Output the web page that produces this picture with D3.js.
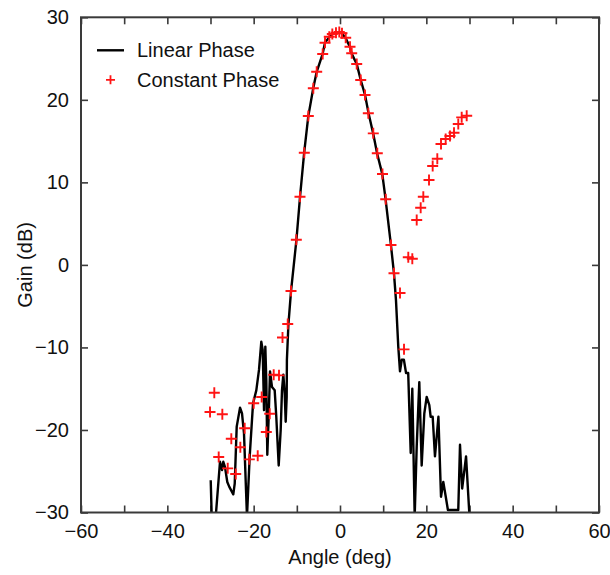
<!DOCTYPE html>
<html>
<head>
<meta charset="utf-8">
<script src="https://cdn.jsdelivr.net/npm/d3@7"></script>
<style>
    html, body { margin: 0; padding: 0; background: #fff; }
    svg { display: block; font-family: "Liberation Sans", Arial, sans-serif; }
</style>
</head>
<body>
<div id="chart"></div>
<script>
const xTicks = [-60, -40, -20, 0, 20, 40, 60];
const yTicks = [-30, -20, -10, 0, 10, 20, 30];
const seriesNames = ['Linear Phase', 'Constant Phase'];

// black trace (values below -30 are clipped by the frame)
const linearAngle = [
    -29.95, -29.72, -28.79, -27.80, -27.33, -27.03, -26.64, -26.11, -25.64, -24.72,
    -24.39, -23.93, -23.16, -22.70, -22.24, -21.77, -21.55, -20.92, -20.15, -19.39,
    -18.76, -18.23, -17.91, -17.60, -17.30, -17.07, -16.84, -16.52, -16.21, -15.75,
    -15.13, -14.76, -14.20, -13.74, -13.44, -13.13, -12.81, -12.58, -12.35, -12.30,
    -11.95, -11.35, -10.10, -9.25, -8.30, -7.35, -6.20, -5.40, -4.00, -3.50,
    -2.50, -1.80, -0.90, -0.15, 0.45, 1.30, 2.30, 2.70, 3.90, 4.80,
    5.80, 6.60, 7.70, 8.60, 9.80, 10.55, 11.80, 12.50, 12.97, 13.50,
    13.90, 14.30, 14.80, 15.30, 15.80, 16.38, 16.75, 17.30, 17.77, 18.37,
    18.92, 19.53, 20.08, 20.69, 21.00, 21.47, 22.00, 22.80, 23.40, 23.93,
    24.50, 25.00, 27.40, 27.80, 28.30, 29.20, 30.00
];
const linearGain = [
    -26.1, -30.5, -30.5, -23.85, -24.85, -23.85, -24.5, -26.3, -26.9, -27.8,
    -26.5, -19.6, -17.3, -18.0, -20.4, -27.3, -30.5, -23.2, -16.8, -15.2,
    -12.7, -9.3, -10.3, -17.6, -9.9, -14.0, -23.0, -18.4, -12.9, -14.8,
    -15.2, -18.4, -24.3, -20.0, -15.2, -13.3, -15.6, -19.0, -16.0, -11.5,
    -7.2, -3.2, 3.0, 8.3, 13.6, 18.0, 21.4, 23.4, 25.6, 26.9,
    27.6, 27.95, 28.1, 28.2, 28.05, 27.5, 26.4, 25.6, 24.3, 22.4,
    20.6, 18.4, 15.9, 13.5, 11.0, 8.0, 2.4, -1.0, -4.3, -9.9,
    -12.9, -11.5, -11.5, -13.1, -13.1, -22.8, -15.0, -30.5, -22.0, -14.2,
    -24.3, -18.0, -16.0, -17.0, -18.4, -18.4, -23.2, -18.4, -28.1, -26.3,
    -28.1, -29.7, -29.7, -21.8, -27.1, -23.2, -30.5
];

// red crosses
const constAngle = [
    -29.12, -30.11, -27.26, -25.18, -28.10, -26.01, -24.16, -23.09, -22.08, -21.01,
    -19.06, -19.99, -18.14, -16.28, -17.07, -15.36, -14.13, -13.32, -12.11, -11.35,
    -10.12, -9.27, -8.27, -7.34, -6.18, -5.40, -4.01, -3.47, -2.48, -1.78,
    -0.93, -0.16, 0.46, 1.32, 2.32, 2.71, 3.87, 4.80, 5.79, 6.56,
    7.71, 8.64, 9.84, 10.59, 11.81, 12.51, 13.90, 14.83, 15.82, 16.75,
    17.77, 18.69, 19.30, 20.62, 21.47, 22.54, 23.40, 24.48, 25.48, 26.41,
    27.40, 28.19, 29.35
];
const constGain = [
    -15.49, -17.83, -18.10, -21.06, -23.28, -24.65, -25.34, -22.10, -19.80, -23.56,
    -23.12, -16.77, -16.01, -18.03, -20.25, -13.31, -13.38, -8.80, -7.16, -3.16,
    3.05, 8.26, 13.59, 18.04, 21.40, 23.41, 25.55, 26.92, 27.65, 27.98,
    28.13, 28.22, 28.06, 27.53, 26.44, 25.64, 24.34, 22.40, 20.59, 18.37,
    15.94, 13.52, 11.01, 7.95, 2.41, -1.02, -3.41, -10.23, 0.92, 0.75,
    5.44, 6.93, 8.26, 10.29, 11.98, 12.87, 14.65, 15.25, 15.62, 16.02,
    17.07, 17.88, 18.08
];

const LAYOUT = {
    WIDTH: 610,
    HEIGHT: 575,
    LEFT: 81,
    RIGHT: 599,
    TOP: 17.3,
    BOTTOM: 512.5,
    TICK: 7,
    FONT: 20,
};

const COLORS = {
    frame: '#3a3a3a',
    line: '#000',
    cross: '#ff1414',
    text: '#111',
};

function crossPath(size) {
    const h = size / 2;
    return `M${-h},0H${h}M0,${-h}V${h}`;
}

const svg = d3.select('#chart').append('svg')
    .attr('width', LAYOUT.WIDTH)
    .attr('height', LAYOUT.HEIGHT);

const x = d3.scaleLinear().domain([-60, 60]).range([LAYOUT.LEFT, LAYOUT.RIGHT]);
const y = d3.scaleLinear().domain([-30, 30]).range([LAYOUT.BOTTOM, LAYOUT.TOP]);

svg.append('defs')
    .append('clipPath')
    .attr('id', 'plot-clip')
    .append('rect')
    .attr('x', LAYOUT.LEFT)
    .attr('y', LAYOUT.TOP)
    .attr('width', LAYOUT.RIGHT - LAYOUT.LEFT)
    .attr('height', LAYOUT.BOTTOM - LAYOUT.TOP);

const fmt = (d) => (d < 0 ? `\u2212${Math.abs(d)}` : `${d}`);

// axes: ticks point inward, box on all sides
const minorX = d3.range(-60, 61, 10);
const axisBottom = d3.axisBottom(x).tickValues(minorX).tickSize(-LAYOUT.TICK).tickFormat((d) => (xTicks.includes(d) ? fmt(d) : ''));
const axisTop = d3.axisTop(x).tickValues(minorX).tickSize(-LAYOUT.TICK).tickFormat('');
const axisLeft = d3.axisLeft(y).tickValues(yTicks).tickSize(-LAYOUT.TICK).tickFormat(fmt);
const axisRight = d3.axisRight(y).tickValues(yTicks).tickSize(-LAYOUT.TICK).tickFormat('');

function styleAxis(g) {
    g.select('.domain').remove();
    g.selectAll('.tick line').attr('stroke', COLORS.frame).attr('stroke-width', 1.6);
    g.selectAll('.tick text')
        .attr('fill', COLORS.text)
        .style('font-size', `${LAYOUT.FONT}px`)
        .style('font-family', '"Liberation Sans", Arial, sans-serif');
}

svg.append('g').attr('transform', `translate(0,${LAYOUT.BOTTOM})`).call(axisBottom).call(styleAxis)
    .selectAll('.tick text').attr('dy', '1.1em');
svg.append('g').attr('transform', `translate(0,${LAYOUT.TOP})`).call(axisTop).call(styleAxis);
svg.append('g').attr('transform', `translate(${LAYOUT.LEFT},0)`).call(axisLeft).call(styleAxis)
    .selectAll('.tick text').attr('x', -12);
svg.append('g').attr('transform', `translate(${LAYOUT.RIGHT},0)`).call(axisRight).call(styleAxis);

const plot = svg.append('g').attr('clip-path', 'url(#plot-clip)');

const linearData = linearAngle.map((a, i) => ({ a, g: linearGain[i] }));
const constData = constAngle.map((a, i) => ({ a, g: constGain[i] }));

plot.append('path')
    .datum(linearData)
    .attr('fill', 'none')
    .attr('stroke', COLORS.line)
    .attr('stroke-width', 2.4)
    .attr('stroke-linejoin', 'round')
    .attr('d', d3.line().x((d) => x(d.a)).y((d) => y(d.g)));

plot.selectAll('path.cross')
    .data(constData)
    .join('path')
    .attr('class', 'cross')
    .attr('transform', (d) => `translate(${x(d.a)},${y(d.g)})`)
    .attr('d', crossPath(11))
    .attr('stroke', COLORS.cross)
    .attr('stroke-width', 1.9)
    .attr('fill', 'none');

// frame
svg.append('rect')
    .attr('x', LAYOUT.LEFT)
    .attr('y', LAYOUT.TOP)
    .attr('width', LAYOUT.RIGHT - LAYOUT.LEFT)
    .attr('height', LAYOUT.BOTTOM - LAYOUT.TOP)
    .attr('fill', 'none')
    .attr('stroke', COLORS.frame)
    .attr('stroke-width', 2);

// legend
const legend = svg.append('g').attr('transform', `translate(${LAYOUT.LEFT},${LAYOUT.TOP})`);
legend.append('line')
    .attr('x1', 16).attr('x2', 43)
    .attr('y1', 33).attr('y2', 33)
    .attr('stroke', COLORS.line)
    .attr('stroke-width', 2.4);
legend.append('path')
    .attr('transform', 'translate(29.5,62.5)')
    .attr('d', crossPath(9))
    .attr('stroke', COLORS.cross)
    .attr('stroke-width', 1.8);
legend.selectAll('text')
    .data(seriesNames)
    .join('text')
    .attr('x', 56)
    .attr('y', (d, i) => 33 + i * 29.5)
    .attr('dy', '0.35em')
    .attr('fill', COLORS.text)
    .style('font-size', `${LAYOUT.FONT}px`)
    .text((d) => d);

// axis titles
svg.append('text')
    .attr('x', (LAYOUT.LEFT + LAYOUT.RIGHT) / 2)
    .attr('y', 564)
    .attr('text-anchor', 'middle')
    .attr('fill', COLORS.text)
    .style('font-size', `${LAYOUT.FONT}px`)
    .text('Angle (deg)');

svg.append('text')
    .attr('transform', `translate(32,${(LAYOUT.TOP + LAYOUT.BOTTOM) / 2}) rotate(-90)`)
    .attr('text-anchor', 'middle')
    .attr('fill', COLORS.text)
    .style('font-size', `${LAYOUT.FONT}px`)
    .text('Gain (dB)');
</script>
</body>
</html>
